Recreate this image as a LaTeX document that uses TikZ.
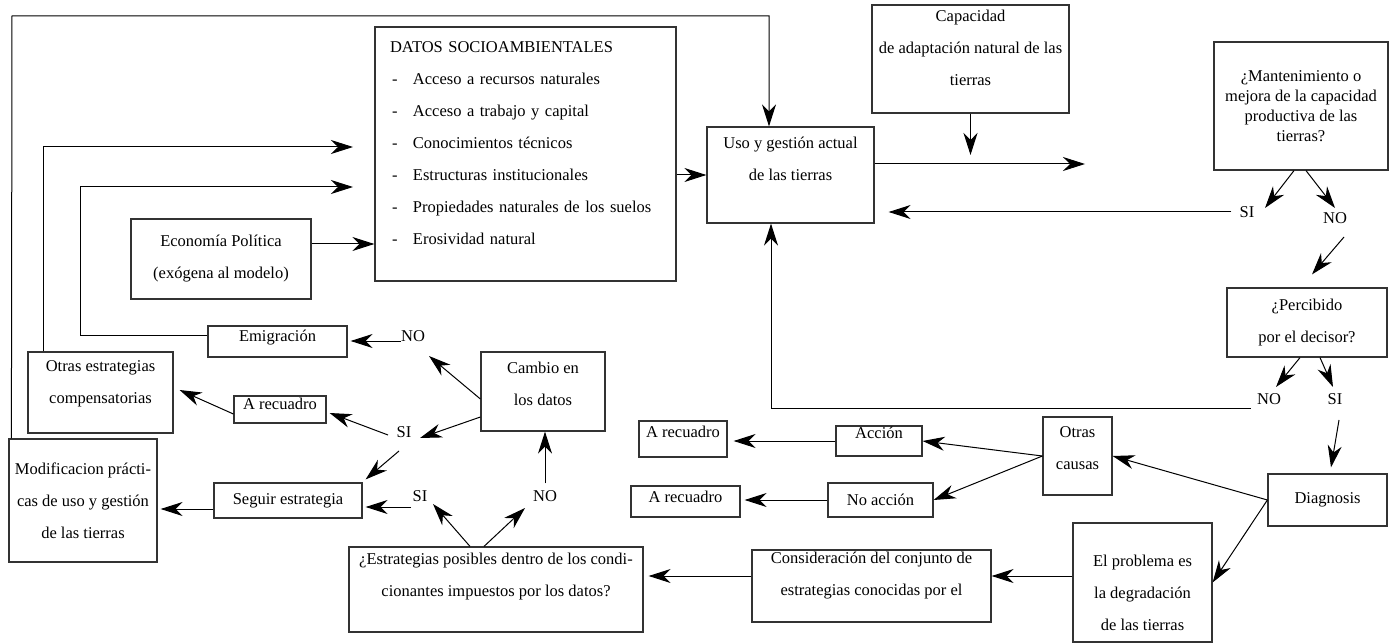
\documentclass[tikz,border=0pt]{standalone}
\usepackage{fontspec}
\setmainfont{Liberation Serif}
\usetikzlibrary{arrows.meta}
\newcommand{\itm}{\makebox[23pt][l]{\hspace{2pt}-}}

\begin{document}
\begin{tikzpicture}[x=1pt, y=-1pt,
  every node/.style={font=\fontsize{16.5}{32}\selectfont},
  rbox/.style={draw=black!80, line width=1.2pt, align=center, inner sep=0pt},
  yesno/.style={inner sep=0pt},
  link/.style={line width=1pt, -{Stealth[length=22pt, width=14pt, inset=7pt]}}]
  \useasboundingbox (0,0) rectangle (1394,644);
  % boxes
  \node[rbox, minimum width=301pt, minimum height=254pt, align=left, text width=271pt] (datos) at (525.5,154)
    {DATOS SOCIOAMBIENTALES\\
     \itm Acceso a recursos naturales\\
     \itm Acceso a trabajo y capital\\
     \itm Conocimientos técnicos\\
     \itm Estructuras institucionales\\
     \itm Propiedades naturales de los suelos\\
     \itm Erosividad natural\\[-11pt]\mbox{}};
  \node[rbox, minimum width=180pt, minimum height=80pt] (econ) at (221,259) {Economía Política\\(exógena al modelo)};
  \node[rbox, minimum width=167pt, minimum height=96pt] (uso) at (790.5,175) {Uso y gestión actual\\de las tierras\\\mbox{}};
  \node[rbox, minimum width=197pt, minimum height=108pt] (capac) at (970.5,59) {Capacidad\\de adaptación natural de las\\tierras\\[-10pt]\mbox{}};
  \node[rbox, minimum width=174pt, minimum height=128pt, font=\fontsize{16.5}{20}\selectfont] (mant) at (1301,106)
    {¿Mantenimiento o\\mejora de la capacidad\\productiva de las\\tierras?};
  \node[rbox, minimum width=160pt, minimum height=69pt] (perc) at (1307,322.5) {¿Percibido\\por el decisor?};
  \node[rbox, minimum width=119pt, minimum height=52pt] (diag) at (1327.5,500) {Diagnosis};
  \node[rbox, minimum width=69pt, minimum height=78pt] (otrasc) at (1077.5,456) {Otras\\causas\\[-16pt]\mbox{}};
  \node[rbox, minimum width=139pt, minimum height=119pt] (probl) at (1142.5,582.5) {\mbox{}\\El problema es\\la degradación\\de las tierras};
  \node[rbox, minimum width=239pt, minimum height=72pt] (consid) at (871.5,586) {Consideración del conjunto de\\estrategias conocidas por el\\[-8pt]\mbox{}};
  \node[rbox, minimum width=86pt, minimum height=30pt] (accion) at (879,441) {Acción\\[-16pt]\mbox{}};
  \node[rbox, minimum width=105pt, minimum height=34pt] (noacc) at (880.5,500) {No acción};
  \node[rbox, minimum width=88pt, minimum height=36pt] (arec1) at (683,439) {A recuadro\\[-18pt]\mbox{}};
  \node[rbox, minimum width=109pt, minimum height=31pt] (arec2) at (685.5,501.5) {A recuadro\\[-22pt]\mbox{}};
  \node[rbox, minimum width=294pt, minimum height=85pt] (estrat) at (496,589.5) {¿Estrategias posibles dentro de los condi-\\cionantes impuestos por los datos?\\[-3pt]\mbox{}};
  \node[rbox, minimum width=148pt, minimum height=35pt] (seguir) at (288,500.5) {Seguir estrategia};
  \node[rbox, minimum width=148pt, minimum height=123pt] (modif) at (83,500.5) {Modificacion prácti-\\cas de uso y gestión\\de las tierras};
  \node[rbox, minimum width=124pt, minimum height=79pt] (cambio) at (543,391.5) {Cambio en\\los datos\\[-17pt]\mbox{}};
  \node[rbox, minimum width=92pt, minimum height=27pt] (arecl) at (280,409.5) {A recuadro\\[-21pt]\mbox{}};
  \node[rbox, minimum width=145pt, minimum height=81pt] (otrase) at (100.5,392.5) {Otras estrategias\\compensatorias\\[-11pt]\mbox{}};
  \node[rbox, minimum width=139pt, minimum height=31pt] (emig) at (277.5,341.5) {Emigración\\[-20pt]\mbox{}};
  % answers
  \node[yesno] (si1) at (1247,212) {SI};
  \node[yesno] (no1) at (1335,218) {NO};
  \node[yesno] (no2) at (1269,399) {NO};
  \node[yesno] (si2) at (1335,399) {SI};
  \node[yesno] (noE) at (413,336) {NO};
  \node[yesno] (siU) at (404,432) {SI};
  \node[yesno] (siL) at (420,496) {SI};
  \node[yesno] (noL) at (545,496) {NO};
  % free ends
  \coordinate (topleft) at (12,16);
  \coordinate (in1) at (353,147);
  \coordinate (in2) at (353,187);
  \coordinate (out1) at (1085,164);
  \coordinate (cin) at (970.5,155);
  % feedback lines to the data and to current use
  \draw[link] ([xshift=3pt]modif.north west) -- (topleft) -| ([xshift=-21.5pt]uso.north);
  \draw[link] ([xshift=-57.5pt]otrase.north) |- (in1);
  \draw[link] ([yshift=6pt]emig.west) -| (80,187) -- (in2);
  \draw[link] ([yshift=15pt]econ.east) -- ([yshift=15pt]econ.east -| datos.west);
  \draw[link] (datos.east |- uso.west) -- (uso.west);
  \draw[link] ([yshift=11pt]uso.east) -- (out1);
  \draw[link] (capac.south) -- (cin);
  % right column
  \draw[link] ([xshift=-7pt]mant.south) -- ([xshift=18pt,yshift=4pt]si1.center);
  \draw[link] ([xshift=5pt]mant.south) -- ([yshift=10pt]no1.center);
  \draw[link] ([xshift=9pt,yshift=-19pt]no1.center) -- ([xshift=5pt,yshift=13pt]perc.north);
  \draw[link, shorten >=14pt] ([xshift=-8pt]si1.west) -- (si1.west -| uso.east);
  \draw[link] ([xshift=-7pt]perc.south) -- ([xshift=7pt,yshift=12pt]no2.center);
  \draw[link] ([xshift=13pt]perc.south) -- ([xshift=-2pt,yshift=12pt]si2.center);
  \draw[link] ([xshift=-6pt,yshift=-9pt]no2.west) -| ([xshift=-19.5pt]uso.south);
  \draw[link] ([xshift=4pt,yshift=-21pt]si2.center) -- ([xshift=3.5pt,yshift=6pt]diag.north);
  \draw[link] (diag.west) -- (otrasc.east);
  \draw[link] (diag.west) -- (probl.east);
  \draw[link] (otrasc.west) -- (accion.east);
  \draw[link] (otrasc.west) -- (noacc.east);
  \draw[link, shorten >=6pt] (accion.west) -- (accion.west -| arec1.east);
  \draw[link, shorten >=4pt] (noacc.west) -- (noacc.west -| arec2.east);
  \draw[link] ([yshift=6.5pt]probl.west) -- ([yshift=6.5pt]probl.west -| consid.east);
  \draw[link, shorten >=5pt] ([yshift=10pt]consid.west) -- ([yshift=10pt]consid.west -| estrat.east);
  % strategy choice
  \draw[link] ([xshift=-26pt]estrat.north) -- ([xshift=13pt,yshift=-8pt]siL.center);
  \draw[link] ([xshift=-12pt]estrat.north) -- ([xshift=-20pt,yshift=-12pt]noL.center);
  \draw[link] ([xshift=-9pt,yshift=-11pt]siL.center) -- ([xshift=3pt,yshift=-6.5pt]seguir.east);
  \draw[link] ([yshift=7pt]noL.north) -- (noL.north |- cambio.south);
  \draw[link] ([yshift=-25.5pt]cambio.west) -- ([xshift=16pt,yshift=-6pt]siU.center);
  \draw[link] ([yshift=-7.5pt]cambio.west) -- ([xshift=16pt,yshift=-20pt]noE.center);
  \draw[link, shorten >=3pt] ([yshift=-5pt]noE.west) -- ([yshift=-5pt]noE.west -| emig.east);
  \draw[link] ([xshift=-16pt,yshift=-3pt]siU.center) -- ([xshift=3pt,yshift=-3.5pt]arecl.east);
  \draw[link] ([xshift=-5pt,yshift=-19pt]siU.center) -- ([xshift=3pt,yshift=3pt]seguir.north east);
  \draw[link] ([yshift=-4.5pt]arecl.west) -- ([xshift=6pt,yshift=2.5pt]otrase.east);
  \draw[link, shorten >=3pt] ([yshift=-8.5pt]seguir.west) -- ([yshift=-8.5pt]seguir.west -| modif.east);
\end{tikzpicture}
\end{document}
